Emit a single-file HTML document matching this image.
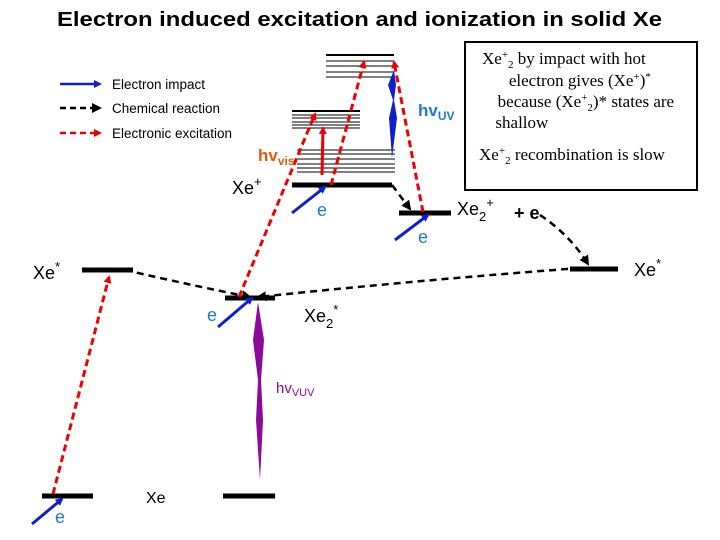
<!DOCTYPE html>
<html><head><meta charset="utf-8"><style>
body{margin:0;background:#fff}
svg{display:block;font-family:"Liberation Sans",Arial,sans-serif}
.s{font-family:"Liberation Serif",serif}
</style></head><body>
<svg width="720" height="540" viewBox="0 0 720 540">
<defs>
<marker id="ab" markerWidth="8" markerHeight="8" refX="6" refY="4" orient="auto" markerUnits="userSpaceOnUse"><path d="M0,0L8,4L0,8z" fill="#1020c8"/></marker>
<marker id="ar" markerWidth="8" markerHeight="8" refX="6" refY="4" orient="auto" markerUnits="userSpaceOnUse"><path d="M0,0L8,4L0,8z" fill="#e00"/></marker>
<marker id="ak" markerWidth="10" markerHeight="10" refX="8" refY="5" orient="auto" markerUnits="userSpaceOnUse"><path d="M0,0L10,5L0,10z" fill="#000"/></marker>
</defs>
<text x="57" y="26" font-size="20" font-weight="bold" textLength="605" lengthAdjust="spacingAndGlyphs">Electron induced excitation and ionization in solid Xe</text>

<g>
<line x1="60" y1="84" x2="100" y2="84" stroke="#1020c8" stroke-width="2.5" marker-end="url(#ab)"/>
<text x="112" y="89" font-size="13.5">Electron impact</text>
<line x1="60" y1="108" x2="100" y2="108" stroke="#000" stroke-width="2.5" stroke-dasharray="6,4" marker-end="url(#ak)"/>
<text x="112" y="113" font-size="13.5">Chemical reaction</text>
<line x1="60" y1="133" x2="100" y2="133" stroke="#e00" stroke-width="2.5" stroke-dasharray="6,4" marker-end="url(#ar)"/>
<text x="112" y="138" font-size="13.5">Electronic excitation</text>
</g>

<g>
<rect x="465" y="42" width="232" height="148" fill="#fff" stroke="#000" stroke-width="2"/>
<text class="s" font-size="17" text-anchor="middle">
<tspan x="566" y="64">Xe<tspan font-size="11" dy="-6">+</tspan><tspan font-size="11" dy="10">2</tspan><tspan dy="-4"> by impact with hot</tspan></tspan>
<tspan x="582" y="86">electron gives (Xe<tspan font-size="11" dy="-6">+</tspan><tspan dy="6">)</tspan><tspan font-size="11" dy="-6">*</tspan></tspan>
<tspan x="588" y="107">because (Xe<tspan font-size="11" dy="-6">+</tspan><tspan font-size="11" dy="10">2</tspan><tspan dy="-4">)* states are</tspan></tspan>
<tspan x="524" y="128">shallow</tspan>
<tspan x="572" y="160">Xe<tspan font-size="11" dy="-6">+</tspan><tspan font-size="11" dy="10">2</tspan><tspan dy="-4"> recombination is slow</tspan></tspan>
</text>
</g>

<g stroke="#000">
<line x1="326" y1="55" x2="394" y2="55" stroke-width="2"/>
<line x1="326" y1="61" x2="394" y2="61"/><line x1="326" y1="66" x2="394" y2="66"/><line x1="326" y1="72" x2="394" y2="72"/><line x1="326" y1="77" x2="394" y2="77"/>
<line x1="292" y1="111" x2="360" y2="111" stroke-width="2"/>
<line x1="292" y1="115" x2="360" y2="115"/><line x1="292" y1="118" x2="360" y2="118"/><line x1="292" y1="122" x2="360" y2="122"/><line x1="292" y1="125" x2="360" y2="125"/><line x1="292" y1="128" x2="360" y2="128"/>
<line x1="297" y1="150" x2="395" y2="150"/><line x1="297" y1="154" x2="395" y2="154"/><line x1="297" y1="159" x2="395" y2="159"/><line x1="297" y1="164" x2="395" y2="164"/><line x1="297" y1="168" x2="395" y2="168"/><line x1="297" y1="172" x2="395" y2="172"/>
<line x1="292" y1="185" x2="392" y2="185" stroke-width="5"/>
<line x1="399" y1="213" x2="451" y2="213" stroke-width="5"/>
<line x1="82" y1="270" x2="133" y2="270" stroke-width="5"/>
<line x1="225" y1="298" x2="275" y2="298" stroke-width="5"/>
<line x1="570" y1="269" x2="618" y2="269" stroke-width="5"/>
<line x1="42" y1="496" x2="93" y2="496" stroke-width="5"/>
<line x1="223" y1="496" x2="275" y2="496" stroke-width="5"/>
</g>

<g stroke="#e00" stroke-width="3" stroke-dasharray="7,4" fill="none">
<line x1="53" y1="494" x2="109" y2="277" marker-end="url(#ar)"/>
<line x1="239" y1="297" x2="315" y2="114" marker-end="url(#ar)"/>
<line x1="331" y1="185" x2="364" y2="62" marker-end="url(#ar)"/>
<line x1="423" y1="212" x2="394" y2="62" marker-end="url(#ar)"/>
<line x1="322" y1="175" x2="323" y2="128" stroke-dasharray="none" marker-end="url(#ar)"/>
</g>

<g stroke="#000" stroke-width="2.5" stroke-dasharray="7,5" fill="none">
<path d="M125,270 Q190,285 250,297" marker-end="url(#ak)"/>
<path d="M580,268 Q420,280 258,297" marker-end="url(#ak)"/>
<path d="M392,185 L410,209" marker-end="url(#ak)"/>
<path d="M540,215 Q570,235 588,264" marker-end="url(#ak)"/>
</g>

<g stroke="#1020c8" stroke-width="3" fill="none">
<line x1="32" y1="524" x2="62" y2="499" marker-end="url(#ab)"/>
<line x1="218" y1="327" x2="252" y2="298" marker-end="url(#ab)"/>
<line x1="292" y1="213" x2="325" y2="187" marker-end="url(#ab)"/>
<line x1="395" y1="240" x2="428" y2="215" marker-end="url(#ab)"/>
</g>

<path d="M392,158 L389,118 L393,100 L388,85 L394,70 L396,85 L394,100 L397,118 Z" fill="#1020c8"/>
<path d="M260,480 L256,420 L258,380 L253,340 L258,302 L264,340 L261,380 L263,420 Z" fill="#8b0a9c"/>

<g font-size="18">
<text x="232" y="194">Xe<tspan font-size="13" dy="-8">+</tspan></text>
<text x="33" y="279">Xe<tspan font-size="13" dy="-8">*</tspan></text>
<text x="634" y="276">Xe<tspan font-size="13" dy="-8">*</tspan></text>
<text x="304" y="322">Xe<tspan font-size="13" dy="6">2</tspan><tspan font-size="13" dy="-14">*</tspan></text>
<text x="457" y="215">Xe<tspan font-size="13" dy="6">2</tspan><tspan font-size="13" dy="-14">+</tspan></text>
<text x="514" y="219" font-weight="bold">+ e</text>
<text x="146" y="503" font-size="16">Xe</text>
<text x="317" y="216" fill="#1a7ad4">e</text>
<text x="418" y="243" fill="#1a7ad4">e</text>
<text x="207" y="321" fill="#1a7ad4">e</text>
<text x="55" y="523" fill="#1a7ad4">e</text>
<text x="258" y="161" fill="#e05a10" font-weight="bold" font-size="17">hv<tspan font-size="12" dy="4">vis</tspan></text>
<text x="418" y="116" fill="#1a7ad4" font-weight="bold" font-size="17">hv<tspan font-size="12" dy="4">UV</tspan></text>
<text x="276" y="393" fill="#8b0a9c" font-size="15">hv<tspan font-size="11" dy="3">VUV</tspan></text>
</g>
</svg>
</body></html>
